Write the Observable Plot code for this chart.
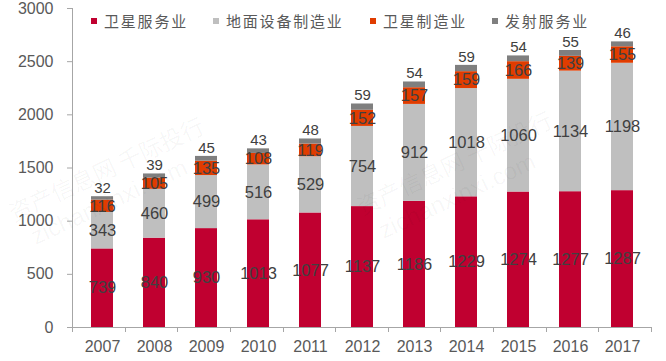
<!DOCTYPE html>
<html>
<head>
<meta charset="utf-8">
<script src="https://cdn.jsdelivr.net/npm/d3@7"></script>
<script src="https://cdn.jsdelivr.net/npm/@observablehq/plot@0.6"></script>
<style>
  html, body { margin: 0; padding: 0; background: #fff; }
  #wrap { position: relative; width: 666px; height: 361px; overflow: hidden; }
  #wrap svg { display: block; }
  .leg { position: absolute; top: 14px; display: flex; align-items: center;
         font-family: "Noto Sans CJK SC", sans-serif; font-size: 15px; color: #595959;
         letter-spacing: 1.8px; line-height: 14px; height: 14px; white-space: nowrap; }
  .leg i { display: inline-block; width: 6px; height: 6px; margin-right: 7px; }
  .leg span { display: inline-block; height: 14px; line-height: 14px; overflow: visible; }
  #wm { position: absolute; left: 0; top: 0; pointer-events: none; }
</style>
</head>
<body>
<div id="wrap"></div>
<script>
const years = [2007, 2008, 2009, 2010, 2011, 2012, 2013, 2014, 2015, 2016, 2017];
const seriesNames = ["卫星服务业", "地面设备制造业", "卫星制造业", "发射服务业"];
const satService = [739, 840, 930, 1013, 1077, 1137, 1186, 1229, 1274, 1277, 1287];
const groundEquip = [343, 460, 499, 516, 529, 754, 912, 1018, 1060, 1134, 1198];
const satMfg = [116, 105, 135, 108, 119, 152, 157, 159, 166, 139, 155];
const launch = [32, 39, 45, 43, 48, 59, 54, 59, 54, 55, 46];
const yTicks = [0, 500, 1000, 1500, 2000, 2500, 3000];
const colors = ["#C00030", "#BFBFBF", "#E03C00", "#7F7F7F"];

const seriesValues = [satService, groundEquip, satMfg, launch];
const data = years.flatMap((yr, i) =>
  seriesNames.map((s, j) => ({year: String(yr), series: s, value: seriesValues[j][i]})));
const inner = data.filter(d => d.series !== "发射服务业");
const tops = years.map((yr, i) => ({
  year: String(yr),
  total: satService[i] + groundEquip[i] + satMfg[i] + launch[i],
  launch: launch[i]
}));

const axisLines = (index, scales, values, dims) => {
  const {marginLeft: l, marginRight: r, width: w} = dims;
  const y0 = scales.y(0), yTop = scales.y(3000);
  const g = d3.create("svg:g").attr("stroke", "#A6A6A6").attr("stroke-width", 1);
  g.append("line").attr("x1", l).attr("x2", w - r).attr("y1", y0 + 0.5).attr("y2", y0 + 0.5);
  g.append("line").attr("x1", l + 0.5).attr("x2", l + 0.5).attr("y1", yTop).attr("y2", y0);
  const n = years.length, step = (w - l - r) / n;
  for (let i = 0; i <= n; i++) {
    const x = Math.round(l + i * step) + 0.5;
    g.append("line").attr("x1", x).attr("x2", x).attr("y1", y0).attr("y2", y0 + 5);
  }
  return g.node();
};

const chart = Plot.plot({
  width: 666,
  height: 361,
  marginLeft: 72,
  marginRight: 15,
  marginTop: 8,
  marginBottom: 34,
  style: {fontFamily: "'Liberation Sans', Arial, sans-serif", background: "transparent"},
  x: {domain: years.map(String), paddingInner: 0.58, paddingOuter: 0.29, label: null},
  y: {domain: [0, 3000], label: null},
  color: {domain: seriesNames, range: colors},
  marks: [
    Plot.barY(data, {x: "year", y: "value", fill: "series", order: seriesNames}),
    Plot.text(inner, Plot.stackY({x: "year", y: "value", z: "series", order: seriesNames,
      text: d => String(d.value), fill: "#404040", fontSize: 16.5})),
    Plot.text(tops, {x: "year", y: "total", text: d => String(d.launch), dy: -8.5,
      fill: "#404040", fontSize: 15}),
    axisLines,
    Plot.axisY({ticks: yTicks, tickSize: 5, tickPadding: 14, fontSize: 16,
      fill: "#595959", stroke: "#A6A6A6", label: null, tickFormat: d => String(d)}),
    Plot.axisX({tickSize: 0, tickPadding: 13, fontSize: 16, fill: "#595959", label: null})
  ]
});

const wrap = document.getElementById("wrap");
wrap.appendChild(chart);

// watermark
const wm = d3.select(wrap).append("svg").attr("id", "wm").attr("width", 666).attr("height", 361);
[[14, 222], [362, 216]].forEach(([x, y]) => {
  const g = wm.append("g").attr("transform", `translate(${x},${y}) rotate(-25)`)
    .attr("fill", "rgba(0,0,0,0.04)");
  g.append("text").attr("font-family", "'Noto Sans CJK SC', sans-serif").attr("font-size", 23)
    .text("资产信息网 千际投行");
  g.append("text").attr("y", 30).attr("x", 10).attr("font-family", "'Liberation Sans', Arial, sans-serif")
    .attr("font-size", 24).text("zichanxinxi.com");
});

// legend
const legX = [91, 213, 370, 492];
seriesNames.forEach((s, i) => {
  const div = document.createElement("div");
  div.className = "leg";
  div.style.left = legX[i] + "px";
  div.innerHTML = `<i style="background:${colors[i]}"></i><span>${s}</span>`;
  wrap.appendChild(div);
});
</script>
</body>
</html>
